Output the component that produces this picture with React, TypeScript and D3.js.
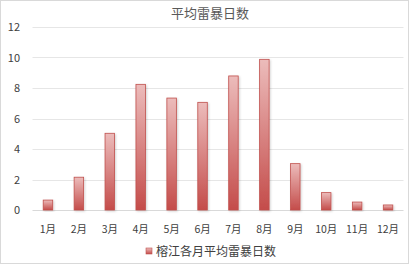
import React from "react";
import * as d3 from "d3";

const months = ["1月", "2月", "3月", "4月", "5月", "6月", "7月", "8月", "9月", "10月", "11月", "12月"];
const values = [0.65, 2.15, 5.03, 8.24, 7.34, 7.06, 8.79, 9.88, 3.04, 1.14, 0.52, 0.33];
const yTicks = [0, 2, 4, 6, 8, 10, 12];
const title = "平均雷暴日数";
const seriesName = "榕江各月平均雷暴日数";

const W = 409;
const H = 264;
const font = "'Noto Sans CJK SC', 'Noto Sans', sans-serif";

export default function App() {
  const x = d3.scaleBand<string>().domain(months).range([32.5, 403.5]);
  const y = d3.scaleLinear().domain([0, 12]).range([210, 27]);
  const bw = 9.5;
  return (
    <svg width={W} height={H} style={{ position: "absolute", left: 0, top: 0 }}>
      <defs>
        <linearGradient id="bg" x1="0" y1="0" x2="0" y2="1">
          <stop offset="0" stopColor="#ecbcbb" />
          <stop offset="1" stopColor="#c44c4a" />
        </linearGradient>
        <filter id="sh" x="-50%" y="-10%" width="200%" height="130%">
          <feDropShadow dx="1" dy="1" stdDeviation="0.8" floodColor="#000" floodOpacity="0.18" />
        </filter>
      </defs>
      <rect x={0.5} y={0.5} width={W - 1} height={H - 1} fill="#fff" stroke="#d9d9d9" />
      <text x={210} y={18} textAnchor="middle" fontFamily={font} fontSize={13} fill="#595959">
        {title}
      </text>
      {yTicks.map((t) => (
        <g key={t}>
          <line x1={32.5} x2={403.5} y1={Math.round(y(t)) + 0.5} y2={Math.round(y(t)) + 0.5} stroke={t === 0 ? "#d9d9d9" : "#e6e6e6"} />
          <text x={20} y={y(t) + 4} textAnchor="end" fontFamily={font} fontSize={11} fill="#404040">
            {t}
          </text>
        </g>
      ))}
      {months.map((m, i) => {
        const cx = (x(m) as number) + x.bandwidth() / 2;
        return (
          <g key={m}>
            <rect
              x={cx - bw / 2}
              y={y(values[i])}
              width={bw}
              height={y(0) - y(values[i])}
              fill="url(#bg)"
              stroke="#c0504d"
              strokeWidth={0.8}
              filter="url(#sh)"
            />
            <text x={cx} y={233} textAnchor="middle" fontFamily={font} fontSize={10.5} fill="#404040">
              {m}
            </text>
          </g>
        );
      })}
      <rect x={146} y={248} width={6} height={6} fill="url(#bg)" stroke="#c0504d" strokeWidth={0.6} />
      <text x={156} y={256} fontFamily={font} fontSize={12} fill="#404040">
        {seriesName}
      </text>
    </svg>
  );
}
